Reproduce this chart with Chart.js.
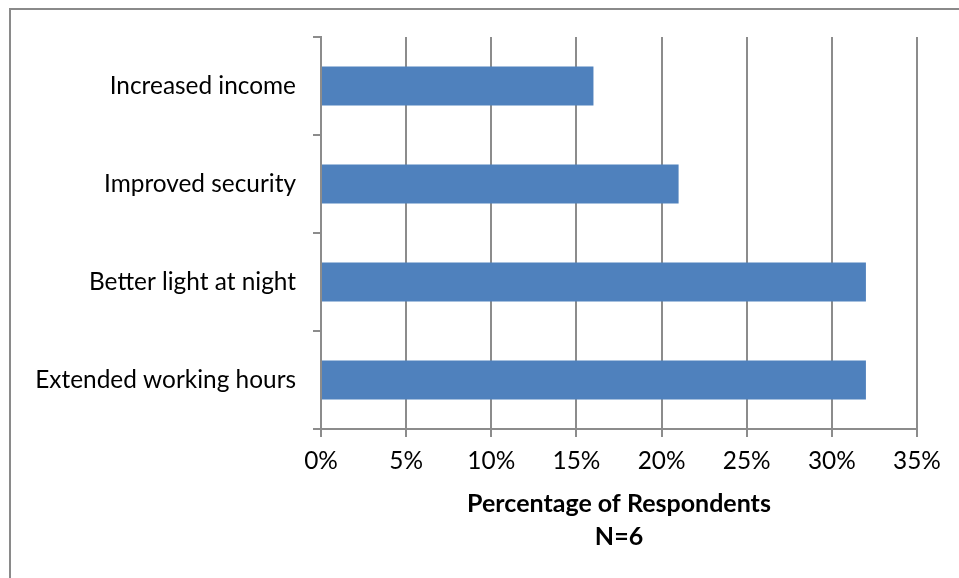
<!DOCTYPE html>
<html>
<head>
<meta charset="utf-8">
<script src="https://cdn.jsdelivr.net/npm/chart.js@4/dist/chart.umd.min.js"></script>
<style>
  html, body { margin: 0; padding: 0; background: #fff; }
  #wrap { position: relative; width: 959px; height: 578px; overflow: hidden; }
  #frame { position: absolute; left: 9px; top: 8px; width: 1000px; height: 1000px;
           border-left: 2px solid #8a8a8a; border-top: 2px solid #8a8a8a; box-sizing: border-box; }
  canvas { position: absolute; left: 0; top: 0; }
</style>
</head>
<body>
<div id="wrap">
  <div id="frame"></div>
  <canvas id="c" width="959" height="578"></canvas>
</div>
<script>
const categories = ["Increased income", "Improved security", "Better light at night", "Extended working hours"];
const percentValues = [16, 21, 32, 32];
const xTickValues = [0, 5, 10, 15, 20, 25, 30, 35];
const xTitleLines = ["Percentage of Respondents", "N=6"];

const FONT = "Lato, 'Open Sans', sans-serif";
const GRID = "#8c8c8c";

new Chart(document.getElementById("c"), {
  type: "bar",
  data: {
    labels: categories,
    datasets: [{
      data: percentValues,
      backgroundColor: "#4f81bd",
      borderWidth: 0,
      barPercentage: 0.8,
      categoryPercentage: 0.5
    }]
  },
  options: {
    indexAxis: "y",
    responsive: false,
    animation: false,
    layout: { padding: { left: 0, top: 37, right: 42, bottom: 0 } },
    plugins: { legend: { display: false }, tooltip: { enabled: false } },
    scales: {
      x: {
        min: 0, max: 35,
        afterBuildTicks: (s) => { s.ticks = xTickValues.map(v => ({ value: v })); },
        afterFit: (s) => { s.height = 578 - 429; },
        border: { display: true, color: GRID, width: 2 },
        grid: { color: GRID, lineWidth: 2, drawTicks: true, tickLength: 8, tickColor: GRID },
        ticks: {
          color: "#000", padding: 10,
          font: { family: FONT, size: 24.4 },
          callback: (v) => v + "%"
        },
        title: {
          display: true, text: xTitleLines, color: "#000",
          font: { family: FONT, size: 25, weight: "bold", lineHeight: 1.32 },
          padding: { top: 0, bottom: 24.5 }
        }
      },
      y: {
        afterFit: (s) => { s.width = 321; },
        border: { display: true, color: GRID, width: 2 },
        grid: { drawOnChartArea: false, drawTicks: true, tickLength: 8, color: GRID, lineWidth: 2 },
        ticks: {
          color: "#000", padding: 17,
          font: { family: FONT, size: 24.4 }
        }
      }
    }
  }
});
</script>
</body>
</html>
